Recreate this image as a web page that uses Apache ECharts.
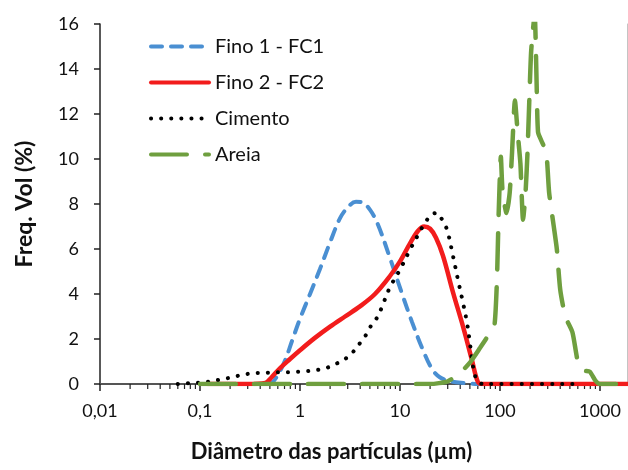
<!DOCTYPE html>
<html>
<head>
<meta charset="utf-8">
<script src="https://cdn.jsdelivr.net/npm/echarts@6/dist/echarts.min.js"></script>
<style>
  html, body { margin: 0; padding: 0; background: #ffffff; }
  #chart { width: 628px; height: 470px; }
</style>
</head>
<body>
<div id="chart"></div>
<script>
// Particle size distributions: [diameter (µm), volume frequency (%)]
const fino1 = [
  [0.30, 0], [0.45, 0], [0.52, 0.05], [0.60, 0.4], [0.71, 1.05], [0.83, 1.9],
  [1.0, 2.9], [1.26, 4.0], [1.58, 5.1], [2.0, 6.3], [2.5, 7.35], [3.0, 7.85],
  [3.63, 8.1], [4.17, 8.08], [5.0, 7.75], [6.0, 7.1], [7.94, 5.6],
  [10.5, 4.0], [13.2, 2.75], [17, 1.5], [21, 0.65], [25, 0.3], [31.6, 0.12],
  [44.7, 0.04], [60, 0], [70, 0]
];
const fino2 = [
  [0.12, 0], [0.3, 0], [0.45, 0.05], [0.52, 0.3], [0.63, 0.7], [0.79, 1.1],
  [1.0, 1.5], [1.41, 2.05], [2.0, 2.55], [2.82, 3.0], [3.98, 3.45],
  [5.62, 4.0], [7.94, 4.8], [10, 5.45], [12.6, 6.25], [15.1, 6.8],
  [17.4, 7.0], [20, 6.9], [22.9, 6.5], [26.9, 5.7], [34, 4.05], [42.7, 2.55],
  [52.5, 1.05], [60, 0.1], [66, 0], [100, 0], [2000, 0]
];
const cimento = [
  [0.06, 0], [0.07, 0.03], [0.09, 0.05], [0.11, 0.08], [0.13, 0.12],
  [0.17, 0.22], [0.21, 0.3], [0.26, 0.4], [0.34, 0.48], [0.45, 0.5],
  [0.6, 0.52], [0.8, 0.53], [1.1, 0.56], [1.47, 0.62], [1.86, 0.72],
  [2.3, 0.9], [2.9, 1.15], [3.4, 1.43], [4.0, 1.83], [4.6, 2.2], [5.2, 2.63],
  [6.0, 3.0], [6.6, 3.43], [7.9, 4.28], [10, 5.08], [12.6, 5.97],
  [15.8, 6.77], [17.8, 7.17], [21, 7.55], [23.5, 7.6], [26, 7.35],
  [29.5, 6.86], [34, 5.66], [38, 4.63], [42.7, 3.6], [46.8, 2.72],
  [50, 1.83], [53, 0.94], [57, 0.3], [62, 0.05], [70, 0], [600, 0]
];
const areia = [
  [0.1, 0], [1, 0], [10, 0], [20, 0], [30, 0.12], [40, 0.5], [50, 0.95],
  [63, 1.6], [80, 2.3], [88, 2.6], [93, 4.5], [97, 7.6], [102, 10.1],
  [106, 8.6], [116, 7.6], [125, 8.5], [132, 10.3], [141, 12.6], [150, 11.2],
  [160, 9.8], [170, 7.3], [180, 8.5], [188, 10.2], [196, 12.5], [205, 14.8],
  [222, 16.4], [232, 13.5], [240, 11.2], [260, 10.8], [290, 10.3],
  [310, 8.5], [345, 7.0], [370, 6.0], [400, 4.2], [450, 3.0], [530, 2.3],
  [600, 1.0], [680, 0.6], [790, 0.55], [900, 0.15], [1000, 0], [2000, 0]
];

const seriesNames = ['Fino 1 - FC1', 'Fino 2 - FC2', 'Cimento', 'Areia'];
const decades = [0.01, 0.1, 1, 10, 100, 1000];
const minorSteps = [2, 3, 4, 5, 6, 7, 8, 9];
const X_MAX = 1862;

// minor ticks of the logarithmic axis (2..9 within each decade)
const minorTicks = [];
decades.forEach(d => minorSteps.forEach(s => {
  const v = +(d * s).toPrecision(3);
  if (v < X_MAX) minorTicks.push([v, 0]);
}));

const FONT = 'Lato';
const TEXT = '#111111';
const fmtComma = v => String(+v.toPrecision(3)).replace('.', ',');

const chart = echarts.init(document.getElementById('chart'), null, { renderer: 'canvas' });

const lineBase = { type: 'line', smooth: 0.35, symbol: 'none', showSymbol: false };

chart.setOption({
  animation: false,
  backgroundColor: '#ffffff',
  grid: { left: 100, right: 1, top: 24, bottom: 86, containLabel: false },
  legend: {
    orient: 'vertical',
    left: 144,
    top: 31,
    itemWidth: 58,
    itemHeight: 14,
    itemGap: 15,
    itemStyle: { opacity: 0 },
    lineStyle: { width: 4, cap: 'round' },
    textStyle: { fontFamily: FONT, fontSize: 20, color: TEXT, lineHeight: 21, padding: [0, 0, 0, 1] },
    data: seriesNames
  },
  xAxis: [{
    type: 'log',
    logBase: 10,
    min: 0.01,
    max: X_MAX,
    interval: 1,
    position: 'bottom',
    axisLine: { show: true, onZero: false, lineStyle: { color: '#222', width: 1.5 } },
    axisTick: { show: true, length: 7, lineStyle: { color: '#222', width: 1.5 } },
    splitLine: { show: false },
    axisLabel: {
      margin: 18, fontFamily: FONT, fontSize: 18, color: TEXT,
      showMaxLabel: false,
      formatter: v => (decades.some(d => Math.abs(d - v) / d < 1e-6) ? fmtComma(v) : '')
    },
    name: 'Diâmetro das partículas (µm)',
    nameLocation: 'middle',
    nameGap: 57,
    nameTextStyle: {
      fontFamily: FONT, fontSize: 22, fontWeight: 'bold', color: TEXT,
      padding: [0, 64, 0, 0]
    }
  }, {
    type: 'log',
    min: 0.01,
    max: X_MAX,
    position: 'top',
    axisLine: { show: true, lineStyle: { color: '#555', width: 2 } },
    axisTick: { show: false },
    axisLabel: { show: false },
    splitLine: { show: false }
  }],
  yAxis: [{
    type: 'value',
    min: 0,
    max: 16,
    interval: 2,
    position: 'left',
    axisLine: { show: true, lineStyle: { color: '#222', width: 1.5 } },
    axisTick: { show: true, length: 6, lineStyle: { color: '#222', width: 1.5 } },
    splitLine: { show: false },
    axisLabel: { margin: 21, fontFamily: FONT, fontSize: 18, color: TEXT },
    name: 'Freq. Vol (%)',
    nameLocation: 'middle',
    nameGap: 64,
    nameTextStyle: { fontFamily: FONT, fontSize: 23, fontWeight: 'bold', color: TEXT }
  }, {
    type: 'value',
    min: 0,
    max: 16,
    position: 'right',
    axisLine: { show: true, lineStyle: { color: '#c4c4c4', width: 1 } },
    axisTick: { show: false },
    axisLabel: { show: false },
    splitLine: { show: false }
  }],
  series: [
    Object.assign({}, lineBase, {
      name: seriesNames[0], data: fino1,
      lineStyle: { color: '#4a8fd2', width: 4, type: [11, 9], cap: 'round' },
      itemStyle: { color: '#4a8fd2' }
    }),
    Object.assign({}, lineBase, {
      name: seriesNames[1], data: fino2,
      lineStyle: { color: '#f21c1c', width: 4.5, type: 'solid', cap: 'round' },
      itemStyle: { color: '#f21c1c' }
    }),
    Object.assign({}, lineBase, {
      name: seriesNames[2], data: cimento,
      lineStyle: { color: '#000000', width: 4, type: [0.1, 10], cap: 'round' },
      itemStyle: { color: '#000000' }
    }),
    Object.assign({}, lineBase, {
      name: seriesNames[3], data: areia, smooth: 0.2,
      lineStyle: { color: '#6f9f3f', width: 4.5, type: [36, 18], cap: 'round' },
      itemStyle: { color: '#6f9f3f' }
    }),
    {
      // minor ticks below the logarithmic axis
      type: 'custom',
      name: 'minorTicks',
      silent: true,
      clip: false,
      data: minorTicks,
      renderItem: (params, api) => {
        const p = api.coord([api.value(0), 0]);
        return {
          type: 'line',
          shape: { x1: p[0], y1: p[1], x2: p[0], y2: p[1] + 5 },
          style: { stroke: '#222', lineWidth: 1.2 }
        };
      },
      z: 1
    }
  ]
});
</script>
</body>
</html>
